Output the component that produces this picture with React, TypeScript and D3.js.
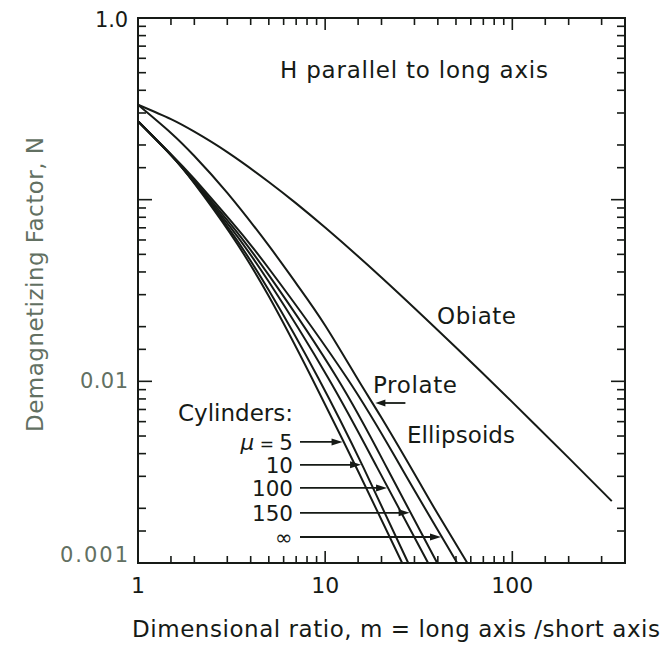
import React, { useEffect, useRef } from 'react';
import * as d3 from 'd3';

// dimensional ratio m (long axis / short axis) and demagnetizing factor N
const oblateM = [1, 1.5, 2, 3, 5, 7, 10, 20, 50, 100, 200, 340];
const oblateN = [0.333, 0.2775, 0.2367, 0.1827, 0.1252, 0.0954, 0.0702, 0.0373, 0.01535, 0.00768, 0.00379, 0.00219];

const prolateM = [1, 1.5, 2, 3, 5, 7, 10, 15, 20, 30, 40, 57.5];
const prolateN = [0.333, 0.233, 0.174, 0.109, 0.0558, 0.0346, 0.0203, 0.0102, 0.0063, 0.0031, 0.00186, 0.001];

const cylinderMu = ['5', '10', '100', '150', '∞'];
const cylinderM = [
  [1, 1.5, 2, 3.1, 5, 8.5, 15, 25.8],
  [1, 1.5, 2, 3.1, 5, 9.2, 16, 27.8],
  [1, 1.5, 2, 3.1, 5, 10.4, 19, 35.5],
  [1, 1.5, 2, 3.1, 5, 11.6, 21.5, 39.7],
  [1, 1.5, 2, 3.1, 5, 13.1, 25.8, 50.8],
];
const cylinderN = [
  [0.27, 0.176, 0.123, 0.0656, 0.0294, 0.0104, 0.0032, 0.001],
  [0.27, 0.176, 0.124, 0.068, 0.0317, 0.0104, 0.00336, 0.001],
  [0.27, 0.176, 0.125, 0.071, 0.0353, 0.0104, 0.00334, 0.001],
  [0.27, 0.177, 0.127, 0.074, 0.0384, 0.0104, 0.0033, 0.001],
  [0.27, 0.178, 0.13, 0.0774, 0.0418, 0.0104, 0.00328, 0.001],
];
// N level at which each cylinder arrow points
const arrowN = [0.00464, 0.00347, 0.00259, 0.00189, 0.00139];

const xTickLabels = ['1', '10', '100'];
const yTickLabels = ['0.001', '0.01', '1.0'];
const yTickLabelValues = [0.001, 0.01, 1];

const FONT = 'DejaVu Sans, sans-serif';
const INK = '#161a16';
const GREY = '#627062';

const zip = (a: number[], b: number[]) => a.map((v, i) => [v, b[i]] as [number, number]);

// m where the (log-log) polyline reaches level n
const mAtN = (ms: number[], ns: number[], n: number) => {
  for (let i = 0; i < ms.length - 1; i++) {
    if (ns[i] >= n && ns[i + 1] <= n) {
      const t = (Math.log(n) - Math.log(ns[i])) / (Math.log(ns[i + 1]) - Math.log(ns[i]));
      return Math.exp(Math.log(ms[i]) + t * (Math.log(ms[i + 1]) - Math.log(ms[i])));
    }
  }
  return ms[ms.length - 1];
};

const App: React.FC = () => {
  const svgRef = useRef<SVGSVGElement>(null);

  useEffect(() => {
    if (!svgRef.current) return;
    const svg = d3.select(svgRef.current);
    svg.selectAll('*').remove();

    const left = 138, right = 625, top = 18, bottom = 563;
    const x = d3.scaleLog().domain([1, 400]).range([left, right]);
    const y = d3.scaleLog().domain([0.001, 1]).range([bottom, top]);

    const mults = [1, 1.5, 2, 3, 4, 5, 6, 7, 8, 9];
    const xTicks: number[] = [];
    [1, 10, 100].forEach(d => mults.forEach(k => { if (d * k < 400) xTicks.push(d * k); }));
    const yTicks: number[] = [];
    [0.001, 0.01, 0.1].forEach(d => mults.forEach(k => yTicks.push(d * k)));
    const isMajor = (v: number) => Math.abs(Math.log10(v) - Math.round(Math.log10(v))) < 1e-6;

    const ax = svg.append('g').attr('stroke', INK).attr('stroke-width', 1.6);
    xTicks.forEach(v => {
      const L = isMajor(v) ? 12 : 7;
      ax.append('line').attr('x1', x(v)).attr('x2', x(v)).attr('y1', bottom).attr('y2', bottom - L);
      ax.append('line').attr('x1', x(v)).attr('x2', x(v)).attr('y1', top).attr('y2', top + L);
    });
    yTicks.forEach(v => {
      const L = isMajor(v) ? 14 : 8;
      ax.append('line').attr('y1', y(v)).attr('y2', y(v)).attr('x1', left).attr('x2', left + L);
      ax.append('line').attr('y1', y(v)).attr('y2', y(v)).attr('x1', right).attr('x2', right - L);
    });
    svg.append('rect')
      .attr('x', left).attr('y', top).attr('width', right - left).attr('height', bottom - top)
      .attr('fill', 'none').attr('stroke', INK).attr('stroke-width', 2);

    // tick labels
    xTickLabels.forEach(t => {
      svg.append('text').attr('x', x(+t)).attr('y', bottom + 30)
        .attr('text-anchor', 'middle').attr('font-family', FONT).attr('font-size', 22)
        .attr('fill', INK).text(t);
    });
    const yLabW: Record<string, number> = { '1.0': 33, '0.01': 48, '0.001': 68 };
    const yLabDy: Record<string, number> = { '1.0': 9, '0.01': 7, '0.001': -1 };
    yTickLabels.forEach((t, i) => {
      svg.append('text').attr('x', left - 10 - yLabW[t]).attr('y', y(yTickLabelValues[i]) + yLabDy[t])
        .attr('font-family', FONT).attr('font-size', 21)
        .attr('textLength', yLabW[t]).attr('lengthAdjust', 'spacing')
        .attr('fill', t === '1.0' ? INK : GREY).text(t);
    });

    // axis titles
    svg.append('text').attr('x', 132).attr('y', 637)
      .attr('font-family', FONT).attr('font-size', 23).attr('fill', INK)
      .attr('textLength', 528).attr('lengthAdjust', 'spacing')
      .text('Dimensional ratio, m = long axis /short axis');
    svg.append('text').attr('transform', 'translate(43, 432) rotate(-90)')
      .attr('font-family', FONT).attr('font-size', 23).attr('fill', GREY)
      .attr('textLength', 295).attr('lengthAdjust', 'spacing')
      .text('Demagnetizing Factor, N');

    // curves
    const line = d3.line<[number, number]>()
      .x(d => x(d[0])).y(d => y(d[1]))
      .curve(d3.curveNatural);
    const curves = svg.append('g').attr('fill', 'none').attr('stroke', INK).attr('stroke-width', 2);
    curves.append('path').attr('d', line(zip(oblateM, oblateN)));
    curves.append('path').attr('d', line(zip(prolateM, prolateN)));
    cylinderM.forEach((ms, i) => {
      curves.append('path').attr('d', line(zip(ms, cylinderN[i])));
    });

    const label = (tx: number, ty: number, s: string, w: number) =>
      svg.append('text').attr('x', tx).attr('y', ty)
        .attr('font-family', FONT).attr('font-size', 23).attr('fill', INK)
        .attr('textLength', w).attr('lengthAdjust', 'spacing').text(s);

    label(280, 78, 'H parallel to long axis', 268);
    label(437, 324, 'Obiate', 79);
    label(373, 393, 'Prolate', 84);
    label(407, 443, 'Ellipsoids', 108);
    label(178, 421, 'Cylinders:', 115);

    // prolate arrow (points left at the prolate curve)
    const pY = 403;
    const pX = x(mAtN(prolateM, prolateN, y.invert(pY))) + 3;
    svg.append('line').attr('x1', pX + 30).attr('x2', pX + 6).attr('y1', pY).attr('y2', pY)
      .attr('stroke', INK).attr('stroke-width', 1.8);
    svg.append('path').attr('d', `M ${pX} ${pY} L ${pX + 10} ${pY - 3.5} L ${pX + 10} ${pY + 3.5} Z`).attr('fill', INK);

    // cylinder arrows
    cylinderMu.forEach((mu, i) => {
      const ay = y(arrowN[i]);
      const tip = x(mAtN(cylinderM[i], cylinderN[i], arrowN[i])) - 1;
      svg.append('line').attr('x1', 300).attr('x2', tip - 6).attr('y1', ay).attr('y2', ay)
        .attr('stroke', INK).attr('stroke-width', 1.8);
      svg.append('path').attr('d', `M ${tip} ${ay} L ${tip - 11} ${ay - 3.5} L ${tip - 11} ${ay + 3.5} Z`).attr('fill', INK);
      const t = svg.append('text').attr('x', 293).attr('y', ay + 8).attr('text-anchor', 'end')
        .attr('font-family', FONT).attr('font-size', 21.5).attr('fill', INK);
      if (i === 0) {
        t.append('tspan').attr('font-style', 'italic').text('μ');
        t.append('tspan').attr('font-size', 17).text(' = ');
        t.append('tspan').text(mu);
      } else {
        t.text(mu);
      }
    });
  }, []);

  return (
    <svg ref={svgRef} width={667} height={645} viewBox="0 0 667 645"
      style={{ position: 'absolute', left: 0, top: 0, background: '#fff' }} />
  );
};

export default App;
